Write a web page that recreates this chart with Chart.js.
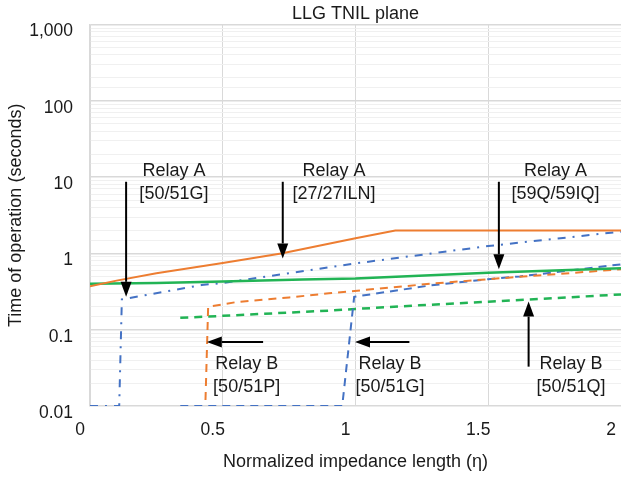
<!DOCTYPE html>
<html>
<head>
<meta charset="utf-8">
<script src="https://cdn.jsdelivr.net/npm/chart.js@4.4.0/dist/chart.umd.min.js"></script>
<style>
  html, body { margin: 0; padding: 0; background: #ffffff; }
  canvas { display: block; }
</style>
</head>
<body>
<canvas id="chart" width="621" height="478"></canvas>
<script>
// 正規化インピーダンス長 η と動作時間 [s]
var relayA27X = [0, 0.1, 0.25, 0.5, 0.72, 1.0, 1.15, 2.0];
var relayA27T = [0.37, 0.44, 0.55, 0.75, 1.0, 1.58, 2.0, 2.0];

var relayA59X = [0, 0.25, 0.5, 0.8, 1.0, 1.5, 2.0];
var relayA59T = [0.40, 0.41, 0.43, 0.455, 0.47, 0.56, 0.64];

var relayA51GX = [0, 0.11, 0.12, 0.42, 0.5, 1.0, 1.5, 2.0];
var relayA51GT = [0.01, 0.01, 0.25, 0.385, 0.41, 0.74, 1.25, 1.93];

var relayB51PX = [0.435, 0.445, 0.55, 0.75, 0.9, 1.28, 1.5, 2.0];
var relayB51PT = [0.012, 0.2, 0.23, 0.265, 0.3, 0.4, 0.46, 0.62];

var relayB51GX = [0.34, 0.95, 0.995, 1.28, 1.5, 1.62, 2.0];
var relayB51GT = [0.01, 0.01, 0.27, 0.38, 0.46, 0.5, 0.72];

var relayB51QX = [0.34, 0.5, 0.9, 1.0, 1.24, 1.5, 2.0];
var relayB51QT = [0.143, 0.152, 0.178, 0.187, 0.209, 0.233, 0.29];

// 軸の目盛り
var xTicks = [0, 0.5, 1, 1.5, 2];
var yTicks = ['0.01', '0.1', '1', '10', '100', '1,000'];

// 矢印と注記 (データ座標)
var notes = [
  { lines: ['Relay A', '[50/51G]'], at: [0.316, 12.1], from: [0.136, 8.7], to: [0.136, 0.27] },
  { lines: ['Relay A', '[27/27ILN]'], at: [0.919, 12.1], from: [0.726, 8.7], to: [0.726, 0.86] },
  { lines: ['Relay A', '[59Q/59IQ]'], at: [1.753, 12.1], from: [1.54, 8.7], to: [1.54, 0.62] },
  { lines: ['Relay B', '[50/51P]'], at: [0.59, 0.0356], from: [0.652, 0.069], to: [0.44, 0.069] },
  { lines: ['Relay B', '[50/51G]'], at: [1.13, 0.0356], from: [1.203, 0.069], to: [0.998, 0.069] },
  { lines: ['Relay B', '[50/51Q]'], at: [1.812, 0.0356], from: [1.652, 0.0328], to: [1.652, 0.234] }
];

var FONT = '"Liberation Sans", Arial, sans-serif';
var ORANGE = '#ED7D31';
var BLUE = '#4472C4';
var GREEN = '#22B455';

function toPoints(xs, ys) {
  return xs.map(function(x, i) { return { x: x, y: ys[i] }; });
}

function series(xs, ys, color, dash, width) {
  return {
    data: toPoints(xs, ys),
    borderColor: color,
    backgroundColor: color,
    borderWidth: width,
    borderDash: dash,
    pointRadius: 0,
    tension: 0,
    fill: false
  };
}

function isDecade(v) {
  var l = Math.log10(v);
  return Math.abs(l - Math.round(l)) < 1e-9;
}

function drawArrow(ctx, x1, y1, x2, y2) {
  var ang = Math.atan2(y2 - y1, x2 - x1);
  var head = 15, half = 5.5;
  var bx = x2 - head * Math.cos(ang), by = y2 - head * Math.sin(ang);
  ctx.beginPath();
  ctx.moveTo(x1, y1);
  ctx.lineTo(bx, by);
  ctx.stroke();
  ctx.beginPath();
  ctx.moveTo(x2, y2);
  ctx.lineTo(bx + half * Math.sin(ang), by - half * Math.cos(ang));
  ctx.lineTo(bx - half * Math.sin(ang), by + half * Math.cos(ang));
  ctx.closePath();
  ctx.fill();
}

// 矢印とラベルを描くプラグイン
var notePlugin = {
  id: 'notes',
  afterDatasetsDraw: function(chart) {
    var ctx = chart.ctx, xs = chart.scales.x, ys = chart.scales.y;
    ctx.save();
    ctx.strokeStyle = '#000';
    ctx.fillStyle = '#000';
    ctx.lineWidth = 2;
    notes.forEach(function(n) {
      drawArrow(ctx,
        xs.getPixelForValue(n.from[0]), ys.getPixelForValue(n.from[1]),
        xs.getPixelForValue(n.to[0]), ys.getPixelForValue(n.to[1]));
    });
    ctx.fillStyle = '#1a1a1a';
    ctx.font = '18px ' + FONT;
    ctx.textAlign = 'center';
    ctx.textBaseline = 'middle';
    notes.forEach(function(n) {
      var px = xs.getPixelForValue(n.at[0]);
      var py = ys.getPixelForValue(n.at[1]);
      n.lines.forEach(function(t, i) { ctx.fillText(t, px, py + i * 23.5); });
    });
    ctx.restore();
  }
};

var context = document.getElementById('chart').getContext('2d');
var myChart = new Chart(context, {
  type: 'line',
  data: {
    datasets: [
      series(relayA27X, relayA27T, ORANGE, [], 2),
      series(relayA59X, relayA59T, GREEN, [], 2.5),
      series(relayA51GX, relayA51GT, BLUE, [8, 7, 2, 7], 2),
      series(relayB51PX, relayB51PT, ORANGE, [8, 6], 2),
      series(relayB51GX, relayB51GT, BLUE, [8, 6], 2),
      series(relayB51QX, relayB51QT, GREEN, [8, 6], 2.5)
    ]
  },
  options: {
    responsive: false,
    animation: false,
    layout: { padding: 0 },
    plugins: {
      legend: { display: false },
      tooltip: { enabled: false },
      title: {
        display: true,
        text: 'LLG TNIL plane',
        fullSize: false,
        color: '#1a1a1a',
        font: { family: FONT, size: 18, weight: 'normal' },
        padding: { top: 3, bottom: 0 }
      }
    },
    scales: {
      x: {
        type: 'linear',
        min: xTicks[0],
        max: xTicks[xTicks.length - 1],
        afterBuildTicks: function(scale) {
          scale.ticks = xTicks.map(function(v) { return { value: v }; });
        },
        ticks: {
          labelOffset: -10,
          padding: 14,
          color: '#1a1a1a',
          font: { family: FONT, size: 17.5 },
          callback: function(v) { return String(v); }
        },
        grid: { color: '#d9d9d9', lineWidth: 1, drawTicks: false },
        border: { display: false },
        title: {
          display: true,
          text: 'Normalized impedance length (η)',
          color: '#1a1a1a',
          font: { family: FONT, size: 18 },
          padding: { top: 0, bottom: 5 }
        },
        afterFit: function(scale) {
          scale.height = 72;
          scale.paddingLeft = 0;
          scale.paddingRight = 0;
        }
      },
      y: {
        type: 'logarithmic',
        min: 0.01,
        max: 1000,
        ticks: {
          autoSkip: false,
          labelOffset: 7,
          padding: 17,
          color: '#1a1a1a',
          font: { family: FONT, size: 17.5 },
          callback: function(v) {
            if (!isDecade(v)) return '';
            return yTicks[Math.round(Math.log10(v)) + 2];
          }
        },
        grid: {
          drawTicks: false,
          color: function(c) { return c.tick && isDecade(c.tick.value) ? '#d9d9d9' : '#f0f0f0'; },
          lineWidth: function(c) { return c.tick && isDecade(c.tick.value) ? 1.5 : 1; }
        },
        border: { color: '#d9d9d9', width: 1.5 },
        title: {
          display: true,
          text: 'Time of operation (seconds)',
          color: '#1a1a1a',
          font: { family: FONT, size: 18 },
          padding: { top: 5, bottom: 0 }
        },
        afterFit: function(scale) {
          scale.width = 90;
          scale.paddingTop = 0;
          scale.paddingBottom = 0;
        }
      }
    }
  },
  plugins: [notePlugin]
});
</script>
</body>
</html>
